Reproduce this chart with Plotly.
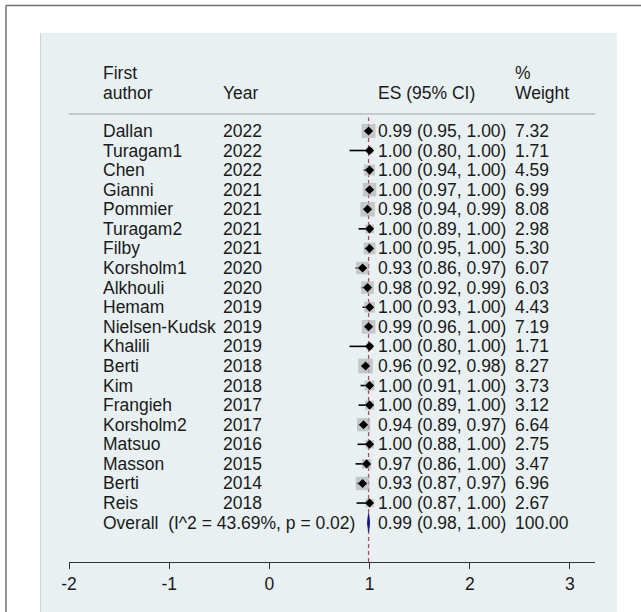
import plotly.graph_objects as go

# Study data
authors = ["Dallan", "Turagam1", "Chen", "Gianni", "Pommier", "Turagam2", "Filby",
           "Korsholm1", "Alkhouli", "Hemam", "Nielsen-Kudsk", "Khalili", "Berti", "Kim",
           "Frangieh", "Korsholm2", "Matsuo", "Masson", "Berti", "Reis"]
years = ["2022", "2022", "2022", "2021", "2021", "2021", "2021", "2020", "2020", "2019",
         "2019", "2019", "2018", "2018", "2017", "2017", "2016", "2015", "2014", "2018"]
es = [0.99, 1.00, 1.00, 1.00, 0.98, 1.00, 1.00, 0.93, 0.98, 1.00,
      0.99, 1.00, 0.96, 1.00, 1.00, 0.94, 1.00, 0.97, 0.93, 1.00]
ci_low = [0.95, 0.80, 0.94, 0.97, 0.94, 0.89, 0.95, 0.86, 0.92, 0.93,
          0.96, 0.80, 0.92, 0.91, 0.89, 0.89, 0.88, 0.86, 0.87, 0.87]
ci_high = [1.00, 1.00, 1.00, 1.00, 0.99, 1.00, 1.00, 0.97, 0.99, 1.00,
           1.00, 1.00, 0.98, 1.00, 1.00, 0.97, 1.00, 1.00, 0.97, 1.00]
weights = [7.32, 1.71, 4.59, 6.99, 8.08, 2.98, 5.30, 6.07, 6.03, 4.43,
           7.19, 1.71, 8.27, 3.73, 3.12, 6.64, 2.75, 3.47, 6.96, 2.67]

overall_label = "Overall\u00a0\u00a0(I^2 = 43.69%, p = 0.02)"
overall_es, overall_low, overall_high, overall_weight = 0.99, 0.98, 1.00, 100.00

x_ticks = [-2, -1, 0, 1, 2, 3]

TEXT = "#1a1a1a"
FONT = "Liberation Sans, Arial, sans-serif"
FS = 17.5

n = len(authors)
rows = [-i for i in range(n)]
overall_row = -n

# column anchors (data x) and header rows (data y)
col_author, col_year, col_es, col_wt = -1.68, -0.483, 1.064, 2.431
hdr_top, hdr_bot, sep_y = 2.96, 1.94, 0.87

fig = go.Figure()

# confidence-interval whiskers
cx, cy = [], []
for lo, hi, r in zip(ci_low, ci_high, rows):
    cx += [lo, hi, None]
    cy += [r, r, None]
fig.add_trace(go.Scatter(x=cx, y=cy, mode="lines", line=dict(color="black", width=1.6),
                         hoverinfo="skip", showlegend=False))

# weight boxes (area proportional to weight)
fig.add_trace(go.Scatter(x=es, y=rows, mode="markers",
                         marker=dict(symbol="square", size=[5.1 * w ** 0.5 for w in weights],
                                     color="#b5b5b5", line=dict(width=0)),
                         hoverinfo="skip", showlegend=False))

# point estimates
fig.add_trace(go.Scatter(x=es, y=rows, mode="markers",
                         marker=dict(symbol="diamond", size=7, color="black", line=dict(width=0)),
                         hoverinfo="skip", showlegend=False))

# overall diamond
h = 0.46
fig.add_trace(go.Scatter(x=[overall_low, overall_es, overall_high, overall_es, overall_low],
                         y=[overall_row, overall_row + h, overall_row, overall_row - h, overall_row],
                         mode="lines", fill="toself", fillcolor="#14148a",
                         line=dict(color="#14148a", width=1), hoverinfo="skip", showlegend=False))

y_bottom, y_top = -22.01, 4.03

shapes = [
    # outer frame
    dict(type="line", xref="paper", yref="paper", x0=(6 - 69) / 526, x1=1.2,
         y0=(562 - 5.5) / 510, y1=(562 - 5.5) / 510, line=dict(color="#707070", width=1.5), layer="below"),
    dict(type="line", xref="paper", yref="paper", x0=(6 - 69) / 526, x1=(6 - 69) / 526,
         y0=-0.2, y1=(562 - 5.5) / 510, line=dict(color="#707070", width=1.5), layer="below"),
    # light panel
    dict(type="rect", xref="paper", yref="paper", x0=(40 - 69) / 526, x1=(617 - 69) / 526,
         y0=-0.2, y1=(562 - 33) / 510, fillcolor="#e8f0f2", line=dict(width=0), layer="below"),
    dict(type="line", xref="paper", yref="paper", x0=(40.5 - 69) / 526, x1=(40.5 - 69) / 526,
         y0=-0.2, y1=(562 - 33) / 510, line=dict(color="#cfd3d5", width=1), layer="below"),
    # header separator
    dict(type="line", xref="paper", yref="y", x0=0, x1=1, y0=sep_y, y1=sep_y,
         line=dict(color="#c8c8c8", width=2)),
    # overall-effect reference line
    dict(type="line", xref="x", yref="y", x0=overall_es, x1=overall_es, y0=y_bottom, y1=0.68,
         line=dict(color="#b24a5e", width=1.3, dash="4px,3px"), layer="below"),
]

ann = []

def txt(x, y, s):
    ann.append(dict(x=x, y=y, xref="x", yref="y", text=s, showarrow=False,
                    xanchor="left", yanchor="middle", font=dict(family=FONT, size=FS, color=TEXT)))

txt(col_author, hdr_top, "First")
txt(col_author, hdr_bot, "author")
txt(col_year, hdr_bot, "Year")
txt(col_es, hdr_bot, "ES (95% CI)")
txt(col_wt, hdr_top, "%")
txt(col_wt, hdr_bot, "Weight")

for a, yr, e, lo, hi, w, r in zip(authors, years, es, ci_low, ci_high, weights, rows):
    txt(col_author, r, a)
    txt(col_year, r, yr)
    txt(col_es, r, f"{e:.2f} ({lo:.2f}, {hi:.2f})")
    txt(col_wt, r, f"{w:.2f}")

txt(col_author, overall_row, overall_label)
txt(col_es, overall_row, f"{overall_es:.2f} ({overall_low:.2f}, {overall_high:.2f})")
txt(col_wt, overall_row, f"{overall_weight:.2f}")

fig.update_layout(
    width=641, height=612,
    margin=dict(l=69, r=46, t=52, b=50, pad=0),
    paper_bgcolor="white", plot_bgcolor="white",
    shapes=shapes, annotations=ann, showlegend=False,
    xaxis=dict(range=[-2, 3.25], tickvals=x_ticks, ticktext=[str(v) for v in x_ticks],
               showgrid=False, zeroline=False, showline=True, linecolor="#333333", linewidth=1.3,
               ticks="outside", ticklen=6, tickwidth=1.3, tickcolor="#333333",
               tickfont=dict(family=FONT, size=FS, color=TEXT), fixedrange=True),
    yaxis=dict(range=[y_bottom, y_top], visible=False, fixedrange=True),
)

fig.write_html("out.html")
